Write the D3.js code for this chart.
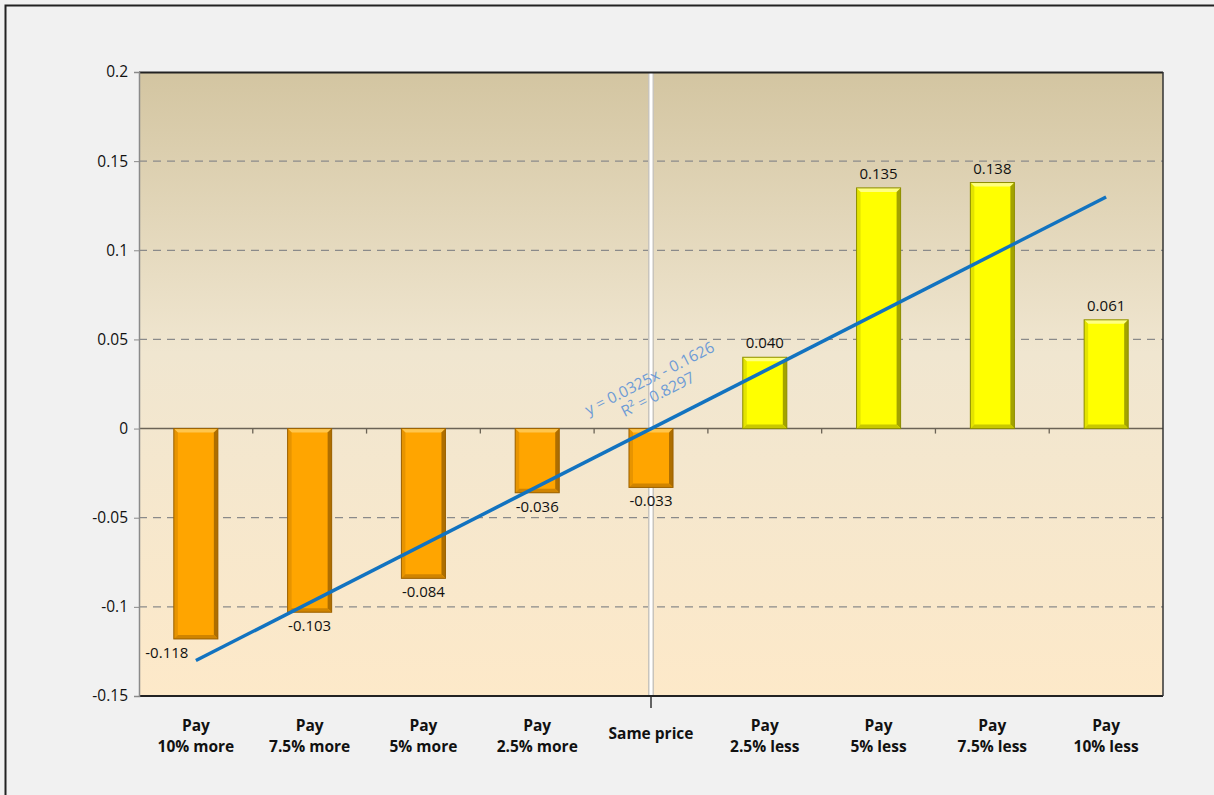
<!DOCTYPE html>
<html>
<head>
<meta charset="utf-8">
<script src="https://cdn.jsdelivr.net/npm/d3@7"></script>
<style>
  body { margin: 0; background: #f1f1f1; }
  svg { display: block; }
  text { font-family: "Open Sans", "DejaVu Sans", sans-serif; }
</style>
</head>
<body>
<svg id="chart" width="1214" height="795"></svg>
<script>
// category labels (two lines each)
var categories = ["Pay|10% more", "Pay|7.5% more", "Pay|5% more", "Pay|2.5% more", "Same price",
                  "Pay|2.5% less", "Pay|5% less", "Pay|7.5% less", "Pay|10% less"];
var values = [-0.118, -0.103, -0.084, -0.036, -0.033, 0.040, 0.135, 0.138, 0.061];
var valueLabels = ["-0.118", "-0.103", "-0.084", "-0.036", "-0.033", "0.040", "0.135", "0.138", "0.061"];
var yTicks = [-0.15, -0.1, -0.05, 0, 0.05, 0.1, 0.15, 0.2];
// linear trendline as printed on the chart
var trendSlope = 0.0325;
var trendIntercept = -0.1626;
var trendText = ["y = 0.0325x - 0.1626", "R\u00b2 = 0.8297"];

var margin = {left: 139, top: 72, right: 51, bottom: 99};
var svg = d3.select("#chart");
var width = 1214 - margin.left - margin.right;
var height = 795 - margin.top - margin.bottom;

var x = d3.scaleBand().domain(d3.range(categories.length)).range([0, width]).paddingInner(0.613).paddingOuter(0.306);
var xc = d3.scaleBand().domain(d3.range(categories.length)).range([0, width]);
var y = d3.scaleLinear().domain([-0.15, 0.2]).range([height, 0]);

// outer frame
svg.append("rect").attr("x", 5.5).attr("y", 5.5).attr("width", 1240).attr("height", 820)
    .attr("fill", "#f1f1f1").attr("stroke", "#222").attr("stroke-width", 2);

var defs = svg.append("defs");
var bg = defs.append("linearGradient").attr("id", "bg").attr("x1", 0).attr("y1", 0).attr("x2", 0).attr("y2", 1);
bg.append("stop").attr("offset", "0%").attr("stop-color", "#d3c5a1");
bg.append("stop").attr("offset", "45%").attr("stop-color", "#f0e6d0");
bg.append("stop").attr("offset", "100%").attr("stop-color", "#fde9c9");

var g = svg.append("g").attr("transform", "translate(" + margin.left + "," + margin.top + ")");

g.append("rect").attr("width", width).attr("height", height).attr("fill", "url(#bg)");

// gridlines
g.selectAll(".grid").data(yTicks.filter(function(d) { return d !== 0 && d !== 0.2 && d !== -0.15; }))
  .enter().append("line")
    .attr("x1", 0).attr("x2", width)
    .attr("y1", function(d) { return y(d); }).attr("y2", function(d) { return y(d); })
    .attr("stroke", "#8a8a8a").attr("stroke-width", 1.3).attr("stroke-dasharray", "8,6");

// vertical divider at "Same price"
var midX = xc(4) + xc.bandwidth() / 2;
g.append("rect").attr("x", midX - 3).attr("y", 0).attr("width", 6).attr("height", height).attr("fill", "#c8c4bc");
g.append("rect").attr("x", midX - 1.5).attr("y", 0).attr("width", 3).attr("height", height).attr("fill", "#ffffff");
g.append("line").attr("x1", midX).attr("x2", midX).attr("y1", height).attr("y2", height + 12)
    .attr("stroke", "#333").attr("stroke-width", 1.5);

// zero axis with category ticks
g.append("line").attr("x1", 0).attr("x2", width).attr("y1", y(0)).attr("y2", y(0))
    .attr("stroke", "#6b6356").attr("stroke-width", 1.5);
g.selectAll(".ctick").data(d3.range(1, categories.length)).enter().append("line")
    .attr("x1", function(d) { return xc(d); }).attr("x2", function(d) { return xc(d); })
    .attr("y1", y(0)).attr("y2", y(0) + 5)
    .attr("stroke", "#6b6356").attr("stroke-width", 1.3);

// bars with bevel
var bars = g.selectAll(".bar").data(values).enter().append("g").attr("class", "bar");
bars.each(function(d, i) {
  var el = d3.select(this);
  var bx = x(i), bw = x.bandwidth();
  var top = Math.min(y(0), y(d)), bh = Math.abs(y(d) - y(0));
  var pos = d > 0;
  var base = pos ? "#ffff00" : "#ffa500";
  var light = pos ? "#ffff80" : "#ffc64d";
  var dark = pos ? "#8c8c00" : "#9a6000";
  var mid = pos ? "#c8c800" : "#d08400";
  var e = 4;
  el.append("rect").attr("x", bx).attr("y", top).attr("width", bw).attr("height", bh).attr("fill", base);
  // top highlight
  el.append("polygon").attr("points", [[bx, top], [bx + bw, top], [bx + bw - e, top + e], [bx + e, top + e]].join(" "))
    .attr("fill", light);
  // left edge
  el.append("polygon").attr("points", [[bx, top], [bx + e, top + e], [bx + e, top + bh - e], [bx, top + bh]].join(" "))
    .attr("fill", mid).attr("opacity", 0.5);
  // right edge
  el.append("polygon").attr("points", [[bx + bw, top], [bx + bw, top + bh], [bx + bw - e, top + bh - e], [bx + bw - e, top + e]].join(" "))
    .attr("fill", dark).attr("opacity", 0.8);
  // bottom edge
  el.append("polygon").attr("points", [[bx, top + bh], [bx + bw, top + bh], [bx + bw - e, top + bh - e], [bx + e, top + bh - e]].join(" "))
    .attr("fill", mid);
  el.append("rect").attr("x", bx).attr("y", top).attr("width", bw).attr("height", bh)
    .attr("fill", "none").attr("stroke", dark).attr("stroke-width", 1);
});

// value labels
g.selectAll(".vlabel").data(values).enter().append("text")
    .attr("x", function(d, i) { return x(i) + x.bandwidth() / 2 + (i === 0 ? -29 : 0); })
    .attr("y", function(d) { return d < 0 ? y(d) + 19 : y(d) - 9; })
    .attr("text-anchor", "middle").attr("font-size", 15).attr("fill", "#111")
    .text(function(d, i) { return valueLabels[i]; });

// trendline
var tx1 = 1, tx2 = categories.length;
var line = d3.line()
    .x(function(d) { return xc(d - 1) + xc.bandwidth() / 2; })
    .y(function(d) { return y(trendSlope * d + trendIntercept); });
g.append("path").datum([tx1, tx2]).attr("d", line)
    .attr("fill", "none").attr("stroke", "#1273c0").attr("stroke-width", 3.5);

// trendline equation
var ex = xc(4) + xc.bandwidth() / 2 + 1, ey = y(0.0255);
var ang = Math.atan2(y(trendSlope * 9) - y(trendSlope * 1), (xc(8) - xc(0))) * 180 / Math.PI;
var eq = g.append("text").attr("transform", "translate(" + ex + "," + ey + ") rotate(" + ang + ")")
    .attr("text-anchor", "middle").attr("font-size", 15.5).attr("fill", "#6d9bd6");
eq.append("tspan").attr("x", 0).attr("dy", 0).text(trendText[0]);
eq.append("tspan").attr("x", 0).attr("dy", 18).text(trendText[1]);

// plot frame
g.append("line").attr("x1", 0).attr("x2", width).attr("y1", 0.5).attr("y2", 0.5).attr("stroke", "#222").attr("stroke-width", 2);
g.append("line").attr("x1", 0).attr("x2", width).attr("y1", height).attr("y2", height).attr("stroke", "#222").attr("stroke-width", 2);
g.append("line").attr("x1", width).attr("x2", width).attr("y1", 0).attr("y2", height).attr("stroke", "#333").attr("stroke-width", 1.5);

// y axis
var yAxis = d3.axisLeft(y).tickValues(yTicks).tickSize(5).tickPadding(6)
    .tickFormat(function(d) { return d === 0 ? "0" : String(+d.toFixed(2)); });
var ya = g.append("g").call(yAxis);
ya.select(".domain").attr("stroke", "#8a8a8a").attr("stroke-width", 1.5);
ya.selectAll(".tick line").attr("stroke", "#8a8a8a");
ya.selectAll(".tick text").attr("font-size", 15.5).attr("fill", "#111")
    .style("font-family", "'Open Sans', sans-serif");

// category labels
var cl = g.selectAll(".clabel").data(categories).enter().append("text")
    .attr("x", function(d, i) { return xc(i) + xc.bandwidth() / 2; })
    .attr("y", function(d) { return d.indexOf("|") < 0 ? height + 43 : height + 35; })
    .attr("text-anchor", "middle").attr("font-size", 15.5).attr("font-weight", "bold").attr("fill", "#111");
cl.each(function(d) {
  var parts = d.split("|");
  var t = d3.select(this);
  parts.forEach(function(p, k) {
    t.append("tspan").attr("x", t.attr("x")).attr("dy", k === 0 ? 0 : 21).text(p);
  });
});
</script>
</body>
</html>
